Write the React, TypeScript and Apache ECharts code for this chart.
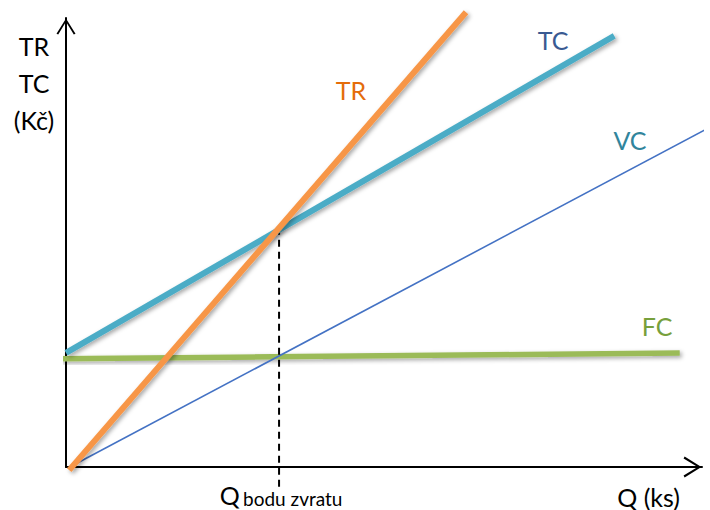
import React, { useEffect, useRef } from "react";
import * as echarts from "echarts";

// Values (Q on x: 0–100, costs on y: 0–100)
const trLine: [number, number][] = [[0.5, -0.7], [62.9, 101.3]];
const tcLine: [number, number][] = [[0, 25.4], [86.2, 96.0]];
const vcLine: [number, number][] = [[0.6, 0], [101.3, 75.7]];
const fcLine: [number, number][] = [[-0.9, 24.1], [96.5, 25.4]];
const breakEven: [number, number] = [33.5, 53.3];
const breakEvenFoot = -4.5;

const seriesNames = ["TR", "TC", "VC", "FC"];
const yAxisTitle = "TR\nTC\n(Kč)";
const xAxisTitle = "Q (ks)";

const FONT = "Lato, 'Open Sans', sans-serif";
const chevron = "path://M10,0 L20,16 L18.2,17 L10,3.6 L1.8,17 L0,16 Z";

const shadow = {
  shadowColor: "rgba(0,0,0,0.35)",
  shadowBlur: 4,
  shadowOffsetX: 2,
  shadowOffsetY: 2,
};

export default function App() {
  const ref = useRef<HTMLDivElement>(null);
  useEffect(() => {
    document.body.style.margin = "0";
    const chart = echarts.init(ref.current!, undefined, { renderer: "svg" });
    chart.setOption({
      animation: false,
      backgroundColor: "#ffffff",
      grid: { left: 66, right: 8, top: 18, bottom: 43 },
      xAxis: {
        type: "value",
        min: 0,
        max: 100,
        name: xAxisTitle,
        nameLocation: "end",
        nameGap: -22,
        nameTextStyle: {
          fontFamily: FONT,
          fontSize: 25,
          color: "#000",
          align: "right",
          verticalAlign: "top",
          padding: [17, 0, 0, 0],
        },
        axisLine: {
          show: true,
          onZero: true,
          symbol: ["none", chevron],
          symbolSize: [21, 19],
          symbolOffset: [0, -9.5],
          lineStyle: { color: "#000", width: 2 },
        },
        axisTick: { show: false },
        axisLabel: { show: false },
        splitLine: { show: false },
      },
      yAxis: {
        type: "value",
        min: 0,
        max: 100,
        name: yAxisTitle,
        nameLocation: "end",
        nameGap: -9,
        nameTextStyle: {
          fontFamily: FONT,
          fontSize: 25,
          lineHeight: 37,
          color: "#000",
          align: "center",
          verticalAlign: "top",
          padding: [0, 64, 0, 0],
        },
        axisLine: {
          show: true,
          onZero: true,
          symbol: ["none", chevron],
          symbolSize: [19, 17],
          symbolOffset: [0, -8.5],
          lineStyle: { color: "#000", width: 2 },
        },
        axisTick: { show: false },
        axisLabel: { show: false },
        splitLine: { show: false },
      },
      series: [
        {
          name: seriesNames[3],
          type: "line",
          data: fcLine,
          symbol: "none",
          clip: false,
          lineStyle: { color: "#9BBB59", width: 5.5, ...shadow },
          z: 2,
        },
        {
          name: seriesNames[2],
          type: "line",
          data: vcLine,
          symbol: "none",
          clip: false,
          lineStyle: { color: "#4472C4", width: 1.6 },
          z: 3,
        },
        {
          name: "break-even",
          type: "line",
          data: [
            breakEven,
            {
              value: [breakEven[0], breakEvenFoot],
              label: {
                show: true,
                position: "bottom",
                distance: 0,
                offset: [2, -4],
                formatter: "{q|Q} {b|bodu zvratu}",
                rich: {
                  q: { fontFamily: FONT, fontSize: 25, lineHeight: 24, color: "#000", verticalAlign: "bottom" },
                  b: { fontFamily: FONT, fontSize: 19, lineHeight: 19, color: "#000", verticalAlign: "bottom" },
                },
              },
            },
          ],
          symbol: "circle",
          symbolSize: 1,
          showSymbol: true,
          itemStyle: { color: "rgba(0,0,0,0)" },
          clip: false,
          lineStyle: { color: "#000", width: 2, type: [7, 5] },
          z: 3,
        },
        {
          name: seriesNames[1],
          type: "line",
          data: tcLine,
          symbol: "none",
          clip: false,
          lineStyle: { color: "#4BACC6", width: 6, ...shadow },
          z: 4,
        },
        {
          name: seriesNames[0],
          type: "line",
          data: trLine,
          symbol: "none",
          clip: false,
          lineStyle: { color: "#F79646", width: 6, ...shadow },
          z: 5,
        },
      ],
      graphic: [
        { type: "text", x: 351, y: 90, style: { text: seriesNames[0], fill: "#E46C0A", font: `25px ${FONT}`, align: "center", verticalAlign: "middle" } },
        { type: "text", x: 553, y: 40, style: { text: seriesNames[1], fill: "#3A5A92", font: `25px ${FONT}`, align: "center", verticalAlign: "middle" } },
        { type: "text", x: 630, y: 140, style: { text: seriesNames[2], fill: "#31859C", font: `25px ${FONT}`, align: "center", verticalAlign: "middle" } },
        { type: "text", x: 657, y: 326, style: { text: seriesNames[3], fill: "#77A03C", font: `25px ${FONT}`, align: "center", verticalAlign: "middle" } },
      ],
    });
    return () => chart.dispose();
  }, []);
  return <div ref={ref} style={{ width: 710, height: 510 }} />;
}
